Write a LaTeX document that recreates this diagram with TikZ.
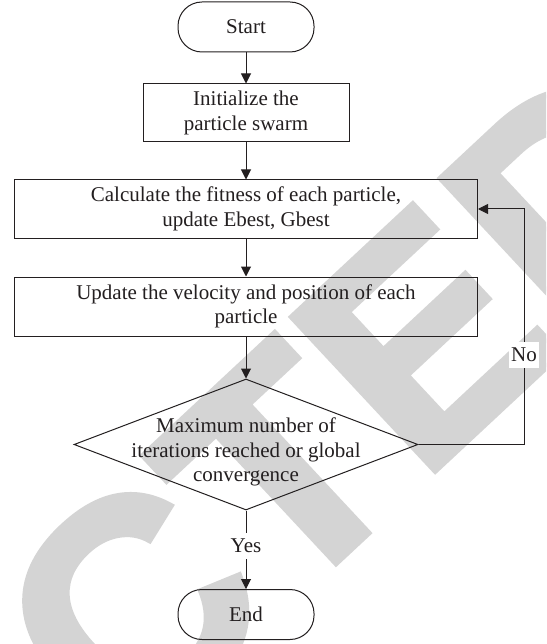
\documentclass[tikz,border=0pt]{standalone}
\usepackage{fontspec}
\setmainfont{Liberation Serif}
\newfontfamily\wmfont{Liberation Sans Bold}[FakeBold=2]
\usetikzlibrary{arrows.meta,shapes.geometric}
\definecolor{ink}{RGB}{35,31,32}
\definecolor{wmgray}{RGB}{212,212,212}
\begin{document}
\begin{tikzpicture}[x=1pt,y=-1pt,
  txt/.style={font=\fontsize{21}{24.5}\selectfont, text=ink, align=center},
  terminal/.style={txt, draw=ink, line width=1pt, rectangle, rounded corners=24pt,
    minimum width=136pt, minimum height=50pt, inner sep=0pt},
  process/.style={txt, draw=ink, line width=1pt, rectangle, minimum height=58pt, inner sep=0pt},
  decision/.style={draw=ink, line width=1pt, diamond, minimum width=344pt,
    minimum height=131pt, inner sep=0pt},
  flow/.style={draw=ink, line width=1pt, -{Triangle[length=10pt,width=10pt]}},
  lbl/.style={txt, fill=white, inner xsep=2pt, inner ysep=6pt},
  stamp/.style={font=\wmfont\fontsize{305}{305}\selectfont, text=wmgray,
    inner sep=0pt, anchor=base}]
\useasboundingbox (0,0) rectangle (546,644);
\fill[white] (0,0) rectangle (546,644);

% background stamp across the page diagonal
\begin{scope}
  \clip (0,0) rectangle (546,644);
  \node[stamp, rotate=43] (wm) at (42.5,836.7) {RETRACTED};
\end{scope}

% flowchart
\node[terminal] (start) at (246,27) {Start};
\node[process, minimum width=206pt] (init) at (246,113) {Initialize the\\particle swarm};
\node[process, minimum width=463pt] (calc) at (246,209) {Calculate the fitness of each particle,\\update Ebest, Gbest};
\node[process, minimum width=463pt, minimum height=59pt] (upd) at (246,306.5) {Update the velocity and position of each\\particle};
\node[decision] (dec) at (246,444.5) {};
\node[txt] (dectext) at (246,452) {Maximum number of\\iterations reached or global\\convergence};
\node[terminal] (end) at (246,614.5) {End};
\coordinate (loop) at (524,444.5);

\draw[flow] (start) -- (init);
\draw[flow] (init) -- (calc);
\draw[flow] (calc) -- (upd);
\draw[flow] (upd) -- (dec);
\draw[flow] (dec.south) -- node[lbl, pos=0.45] (yes) {Yes} (end.north);
\draw[flow] (dec.east) -- (loop) |- node[lbl, pos=0.19] (no) {No} (calc.east);
\end{tikzpicture}
\end{document}
